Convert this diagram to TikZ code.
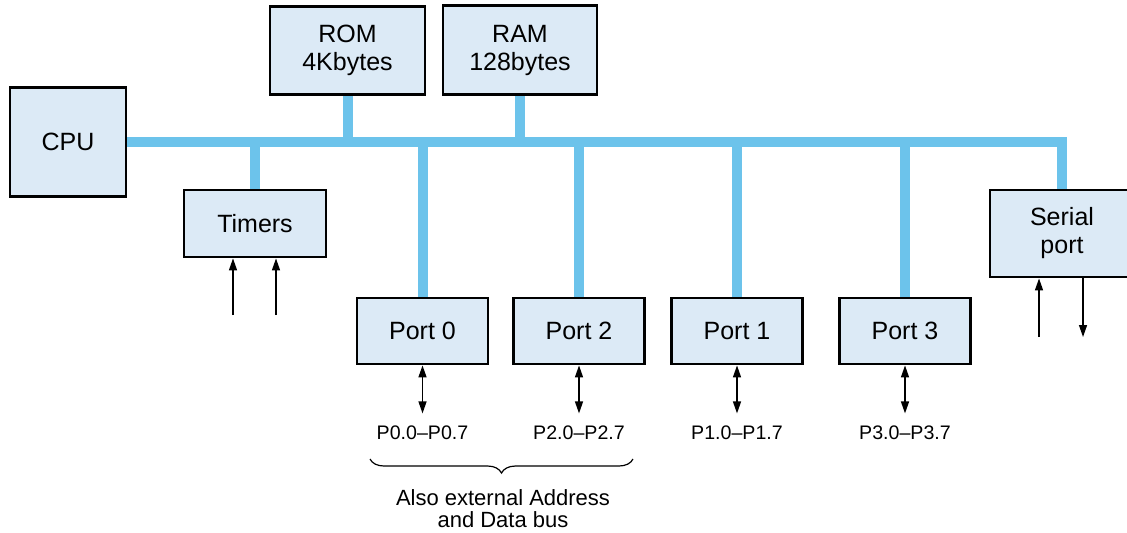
\documentclass[tikz,border=0pt]{standalone}
\usepackage{fontspec}
\setmainfont{Liberation Sans}
\usepackage{tikz}
\usetikzlibrary{arrows.meta,positioning,calc,backgrounds,decorations.pathreplacing}
\definecolor{cBus}{HTML}{6CC3EB}
\definecolor{cFill}{HTML}{DCEAF6}
\tikzset{
  unit/.style={draw=black, line width=1.4pt, fill=cFill, align=center, inner sep=0pt,
               font=\fontsize{12.5}{14}\selectfont},
  port/.style={unit, minimum width=65.5pt, minimum height=33pt},
  bus/.style={draw=cBus, line width=5pt},
  sig/.style={-{Triangle[length=6pt,width=4pt]}, line width=0.7pt},
  bidir/.style={{Triangle[length=6pt,width=4pt]}-{Triangle[length=6pt,width=4pt]},
                line width=0.7pt, shorten >=6pt},
  pins/.style={font=\fontsize{9.8}{12}\selectfont, inner sep=0pt, outer sep=0pt},
  note/.style={font=\fontsize{11}{11.2}\selectfont, align=center, inner sep=0pt},
  brace/.style={decorate, decoration={brace, mirror, amplitude=7pt}, line width=0.6pt},
}

\begin{document}
\begin{tikzpicture}[x=0.5pt, y=-0.5pt]
  \useasboundingbox (0,0) rectangle (1127,532);
  % units on the bus
  \node[unit, minimum width=58pt, minimum height=54.5pt] (cpu) at (68,142) {CPU};
  \node[unit, minimum width=77.5pt, minimum height=44pt] (rom) at (347.5,50.5) {ROM\\4Kbytes};
  \node[unit, minimum width=77pt, minimum height=44.5pt] (ram) at (520,50) {RAM\\128bytes};
  \node[unit, minimum width=71pt, minimum height=33.5pt] (timers) at (255,223.5) {Timers};
  \node[unit, minimum width=72pt, minimum height=43.5pt] (serial) at (1062,233.5) {Serial\\port};
  % the four i/o ports and their pins
  \node[port] (p0) at (422.5,331) {Port 0};
  \node[port] (p2) at (579,331) {Port 2};
  \node[port] (p1) at (737,331) {Port 1};
  \node[port] (p3) at (905,331) {Port 3};
  \node[pins, below=30pt of p0] (p0pins) {P0.0--P0.7};
  \node[pins, below=30pt of p2] (p2pins) {P2.0--P2.7};
  \node[pins, below=30pt of p1] (p1pins) {P1.0--P1.7};
  \node[pins, below=30pt of p3] (p3pins) {P3.0--P3.7};
  \foreach \p in {p0,p2,p1,p3} \draw[bidir] (\p.south) -- (\p pins.north);
  % the bus, behind the boxes
  \begin{scope}[on background layer]
    \draw[bus] (cpu.east) -- (serial.north |- cpu.east) -- (serial.north);
    \foreach \u in {rom,ram,timers,p0,p2,p1,p3}
      \draw[bus] (\u) -- (\u |- cpu.east);
  \end{scope}
  % timer inputs, serial in/out
  \coordinate (tin1) at (233,315);
  \coordinate (tin2) at (276,315);
  \draw[sig] (tin1) -- (tin1 |- timers.south);
  \draw[sig] (tin2) -- (tin2 |- timers.south);
  \coordinate (rxd) at (1039,337);
  \coordinate (txd) at (1083,337);
  \draw[sig] (rxd) -- (rxd |- serial.south);
  \draw[sig] (txd |- serial.south) -- (txd);
  % port 0 and port 2 double as external bus
  \coordinate (bl) at (370,459);
  \coordinate (br) at (633,459);
  \coordinate (tip) at (503,474);
  \draw[brace] (bl) -- (br);
  \node[note, below=7.5pt of tip] (extbus) {Also external Address\\and Data bus};
\end{tikzpicture}
\end{document}
